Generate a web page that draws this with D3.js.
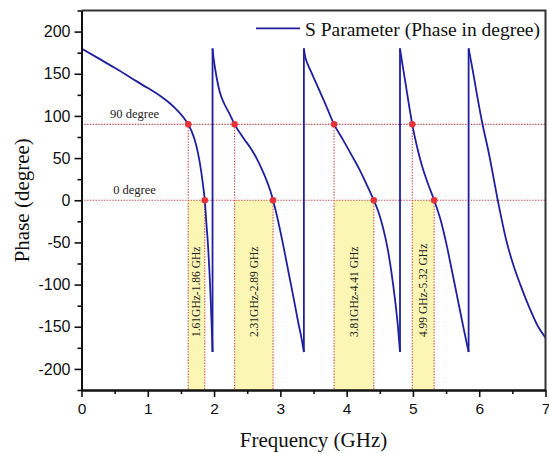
<!DOCTYPE html>
<html>
<head>
<meta charset="utf-8">
<script src="https://cdn.jsdelivr.net/npm/d3@7"></script>
<style>
  html, body { margin: 0; padding: 0; background: #fff; }
  svg { display: block; }
</style>
</head>
<body>
<svg id="chart" width="549" height="453"></svg>
<script>
// Phase response, one array per branch between the ±180° wraps: [frequency GHz, phase deg]
const segment1 = [[0,180],[0.25,168.5],[0.5,157],[0.75,145],[1.0,133],[1.1,128.4],[1.2,123.1],[1.3,117.1],[1.4,110.1],[1.48,103.5],[1.55,97],[1.61,90],[1.66,82],[1.71,71],[1.76,55],[1.81,32],[1.835,17],[1.86,0],[1.885,-28],[1.91,-55],[1.93,-84],[1.947,-114],[1.963,-147],[1.977,-180]];
const segment2 = [[1.977,180],[1.99,170],[2.012,158],[2.04,145],[2.087,128],[2.15,115],[2.23,103],[2.31,90],[2.45,73],[2.55,62],[2.64,50],[2.72,37],[2.79,24],[2.85,11],[2.89,0],[2.95,-19],[3.04,-52],[3.13,-88],[3.2,-116],[3.27,-145],[3.32,-164],[3.355,-180]];
const segment3 = [[3.355,180],[3.37,172],[3.39,166],[3.42,160],[3.46,153],[3.55,137],[3.68,114],[3.81,90],[3.95,71],[4.1,50],[4.2,35.5],[4.28,22.5],[4.35,10.5],[4.41,0],[4.48,-14],[4.55,-33],[4.62,-58],[4.675,-85],[4.73,-118],[4.774,-150],[4.805,-180]];
const segment4 = [[4.805,180],[4.84,162],[4.89,138],[4.94,113],[4.99,90],[5.06,64],[5.14,40],[5.23,19],[5.32,0],[5.42,-24],[5.5,-50],[5.6,-88],[5.69,-123],[5.77,-154],[5.84,-180]];
const segment5 = [[5.84,180],[5.9,155],[5.96,128],[6.04,94],[6.15,54],[6.28,0],[6.41,-48],[6.52,-78],[6.62,-100],[6.75,-126],[6.89,-150],[7,-163]];

// Highlighted bands: phase passes from 90° down to 0°
const bandStart = [1.61, 2.31, 3.81, 4.99];
const bandEnd = [1.86, 2.89, 4.41, 5.32];
const bandLabels = ["1.61GHz-1.86 GHz", "2.31GHz-2.89 GHz", "3.81GHz-4.41 GHz", "4.99 GHz-5.32 GHz"];

// Reference levels
const refLevels = [90, 0];
const refLabels = ["90 degree", "0 degree"];

// Axis ticks
const xTicks = [0, 1, 2, 3, 4, 5, 6, 7];
const xMinorTicks = [0.5, 1.5, 2.5, 3.5, 4.5, 5.5, 6.5];
const yTicks = [-200, -150, -100, -50, 0, 50, 100, 150, 200];
const yMinorTicks = [-225, -175, -125, -75, -25, 25, 75, 125, 175, 225];

const legendLabel = "S Parameter (Phase in degree)";
const xTitle = "Frequency (GHz)";
const yTitle = "Phase (degree)";

const segments = [segment1, segment2, segment3, segment4, segment5];

const serif = "'Liberation Serif', 'Times New Roman', Times, serif";
const sans = "'Liberation Sans', Arial, Helvetica, sans-serif";
const curveColor = "#1f1fa0";
const refColor = "#c84a4a";
const dotColor = "#e8323a";
const bandFill = "#fbf6b3";

const svg = d3.select("#chart");
const x = d3.scaleLinear().domain([0, 7]).range([81.5, 545.5]);
const y = d3.scaleLinear().domain([-225, 225]).range([390, 10.5]);

svg.append("defs").append("clipPath").attr("id", "plot-clip")
  .append("rect")
  .attr("x", x(0)).attr("y", y(225))
  .attr("width", x(7) - x(0)).attr("height", y(-225) - y(225));

const plot = svg.append("g").attr("clip-path", "url(#plot-clip)");

// Yellow bands from 0° to the bottom of the plot
plot.selectAll("rect.band")
  .data(bandStart.map((s, i) => ({ s, e: bandEnd[i] })))
  .join("rect")
  .attr("class", "band")
  .attr("x", d => x(d.s))
  .attr("width", d => x(d.e) - x(d.s))
  .attr("y", y(0))
  .attr("height", y(-225) - y(0))
  .attr("fill", bandFill);

// Horizontal reference lines
plot.selectAll("line.ref")
  .data(refLevels)
  .join("line")
  .attr("class", "ref")
  .attr("x1", x(0)).attr("x2", x(7))
  .attr("y1", d => y(d)).attr("y2", d => y(d))
  .attr("stroke", refColor).attr("stroke-width", 1.1)
  .attr("stroke-dasharray", "1.4,1.4");

// Vertical drop lines: band starts drop from 90°, band ends from 0°
plot.selectAll("line.dropStart")
  .data(bandStart)
  .join("line")
  .attr("x1", d => x(d)).attr("x2", d => x(d))
  .attr("y1", y(refLevels[0])).attr("y2", y(-225))
  .attr("stroke", refColor).attr("stroke-width", 1.1)
  .attr("stroke-dasharray", "1.4,1.4");
plot.selectAll("line.dropEnd")
  .data(bandEnd)
  .join("line")
  .attr("x1", d => x(d)).attr("x2", d => x(d))
  .attr("y1", y(refLevels[1])).attr("y2", y(-225))
  .attr("stroke", refColor).attr("stroke-width", 1.1)
  .attr("stroke-dasharray", "1.4,1.4");

// Band labels, rotated
svg.selectAll("text.bandLabel")
  .data(bandLabels)
  .join("text")
  .attr("class", "bandLabel")
  .attr("transform", (d, i) => `translate(${(x(bandStart[i]) + x(bandEnd[i])) / 2},337) rotate(-90)`)
  .attr("dy", "0.34em")
  .attr("text-anchor", "start")
  .attr("font-family", serif)
  .attr("font-size", "11.5px")
  .attr("fill", "#222")
  .text(d => d);

// Reference level labels
svg.selectAll("text.refLabel")
  .data(refLabels)
  .join("text")
  .attr("class", "refLabel")
  .attr("x", x(0.8))
  .attr("y", (d, i) => y(refLevels[i]) - 6)
  .attr("text-anchor", "middle")
  .attr("font-family", serif)
  .attr("font-size", "12.5px")
  .attr("fill", "#222")
  .text(d => d);

// Phase curve branches and the wrap-around jumps between them
const line = d3.line().x(d => x(d[0])).y(d => y(d[1])).curve(d3.curveMonotoneX);
plot.selectAll("path.branch")
  .data(segments)
  .join("path")
  .attr("class", "branch")
  .attr("d", line)
  .attr("fill", "none")
  .attr("stroke", curveColor)
  .attr("stroke-width", 1.8);
plot.selectAll("line.jump")
  .data(segments.slice(0, -1).map((s, i) => [s[s.length - 1], segments[i + 1][0]]))
  .join("line")
  .attr("class", "jump")
  .attr("x1", d => x(d[0][0])).attr("y1", d => y(d[0][1]))
  .attr("x2", d => x(d[1][0])).attr("y2", d => y(d[1][1]))
  .attr("stroke", curveColor)
  .attr("stroke-width", 1.8);

// Crossing markers
const dots = bandStart.map(f => [f, refLevels[0]]).concat(bandEnd.map(f => [f, refLevels[1]]));
plot.selectAll("circle.dot")
  .data(dots)
  .join("circle")
  .attr("cx", d => x(d[0])).attr("cy", d => y(d[1]))
  .attr("r", 3.3)
  .attr("fill", dotColor);

// Frame (top and right)
svg.append("path")
  .attr("d", `M${x(0)},${y(225)}H${x(7)}V${y(-225)}`)
  .attr("fill", "none")
  .attr("stroke", "#333")
  .attr("stroke-width", 2);

// Axes
const tickFmt = d => String(d);
function styleAxis(g, size) {
  g.select(".domain").attr("stroke", "#111").attr("stroke-width", 2);
  g.selectAll(".tick line").attr("stroke", "#111").attr("stroke-width", 1.6);
  g.selectAll(".tick text").attr("font-family", sans).attr("font-size", size).attr("fill", "#111");
}
const xAxisMinor = svg.append("g").attr("transform", `translate(0,${y(-225)})`)
  .call(d3.axisBottom(x).tickValues(xMinorTicks).tickSize(4).tickSizeOuter(0).tickFormat(""));
styleAxis(xAxisMinor, "15.5px");
const xAxis = svg.append("g").attr("transform", `translate(0,${y(-225)})`)
  .call(d3.axisBottom(x).tickValues(xTicks).tickSize(7).tickSizeOuter(0).tickPadding(6).tickFormat(tickFmt));
styleAxis(xAxis, "15.5px");

const yAxisMinor = svg.append("g").attr("transform", `translate(${x(0)},0)`)
  .call(d3.axisLeft(y).tickValues(yMinorTicks).tickSize(4).tickSizeOuter(0).tickFormat(""));
styleAxis(yAxisMinor, "16px");
const yAxis = svg.append("g").attr("transform", `translate(${x(0)},0)`)
  .call(d3.axisLeft(y).tickValues(yTicks).tickSize(7).tickSizeOuter(0).tickPadding(4).tickFormat(tickFmt));
styleAxis(yAxis, "16px");

// Axis titles
svg.append("text")
  .attr("x", (x(0) + x(7)) / 2)
  .attr("y", 447)
  .attr("text-anchor", "middle")
  .attr("font-family", serif)
  .attr("font-size", "21px")
  .attr("fill", "#111")
  .text(xTitle);
svg.append("text")
  .attr("transform", `translate(28.5,${(y(225) + y(-225)) / 2}) rotate(-90)`)
  .attr("text-anchor", "middle")
  .attr("font-family", serif)
  .attr("font-size", "21px")
  .attr("fill", "#111")
  .text(yTitle);

// Legend
svg.append("line")
  .attr("x1", 256).attr("x2", 300)
  .attr("y1", 28.3).attr("y2", 28.3)
  .attr("stroke", curveColor).attr("stroke-width", 1.8);
svg.append("text")
  .attr("x", 305).attr("y", 35.5)
  .attr("font-family", serif)
  .attr("font-size", "19.5px")
  .attr("fill", "#111")
  .text(legendLabel);
</script>
</body>
</html>
